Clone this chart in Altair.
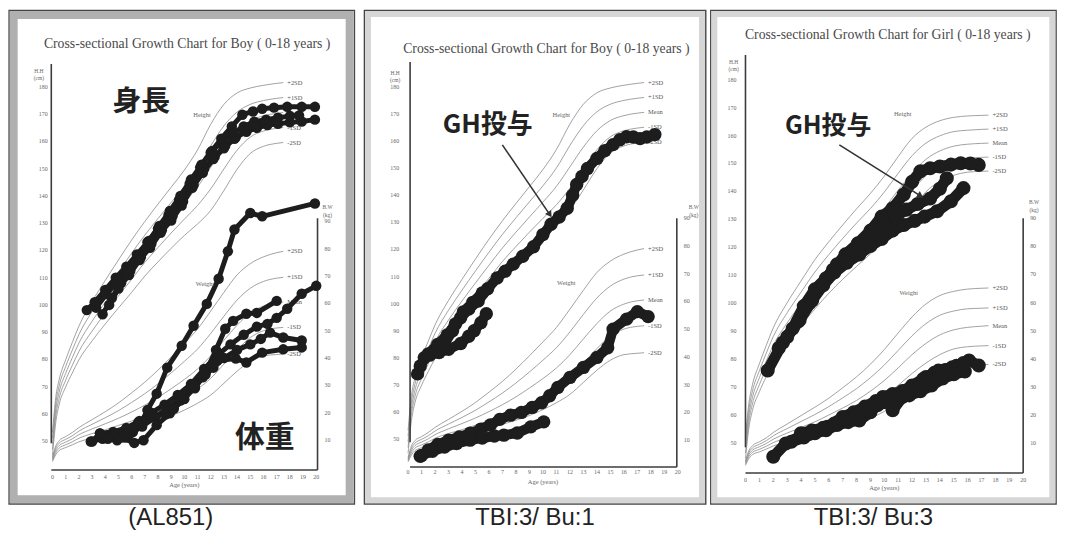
import math
import altair as alt
import pandas as pd

# ---------------- reference growth standards ----------------
REF_AGES = [0, 0.25, 0.5, 1, 1.5, 2, 3, 4, 5, 6, 7, 8, 9, 10, 11, 12, 13, 14, 15, 16, 17, 17.5]
SD_NAMES = ["+2SD", "+1SD", "Mean", "-1SD", "-2SD"]

BOY_HT_P2 = [53.2, 66.1, 72.5, 79.9, 86.2, 92.2, 101.2, 109.0, 116.5, 123.8, 130.6, 137.0, 143.2, 149.5, 156.9, 166.3, 173.6, 177.8, 179.6, 180.6, 181.3, 181.6]
BOY_HT_P1 = [51.1, 63.8, 70.2, 77.4, 83.4, 89.1, 97.6, 105.0, 112.1, 119.0, 125.6, 131.7, 137.6, 143.5, 150.1, 158.4, 165.7, 170.8, 173.6, 175.0, 175.8, 176.1]
BOY_HT_MN = [49.0, 61.5, 67.9, 74.9, 80.6, 86.0, 94.0, 101.0, 107.7, 114.2, 120.6, 126.4, 132.0, 137.5, 143.3, 150.5, 157.8, 163.8, 167.6, 169.4, 170.3, 170.6]
BOY_HT_M1 = [46.9, 59.2, 65.6, 72.4, 77.8, 82.9, 90.4, 97.0, 103.3, 109.4, 115.6, 121.1, 126.4, 131.5, 136.5, 142.6, 149.9, 156.8, 161.6, 163.8, 164.8, 165.1]
BOY_HT_M2 = [44.8, 56.9, 63.3, 69.9, 75.0, 79.8, 86.8, 93.0, 98.9, 104.6, 110.6, 115.8, 120.8, 125.5, 129.7, 134.7, 142.0, 149.8, 155.6, 158.2, 159.3, 159.6]

BOY_WT_P2 = [3.8, 7.9, 9.8, 11.3, 12.8, 14.6, 17.5, 20.4, 23.6, 27.3, 31.2, 35.6, 40.4, 45.4, 50.6, 57.2, 64.0, 70.4, 74.5, 77.0, 78.5, 79.0]
BOY_WT_P1 = [3.4, 7.1, 8.9, 10.3, 11.6, 13.3, 15.8, 18.2, 20.8, 23.8, 27.0, 30.6, 34.6, 38.8, 43.3, 49.0, 55.3, 61.2, 65.5, 68.0, 69.2, 69.5]
BOY_WT_MN = [3.0, 6.3, 8.0, 9.3, 10.5, 12.0, 14.1, 16.0, 18.0, 20.3, 22.8, 25.6, 28.8, 32.2, 36.0, 40.8, 46.5, 52.0, 56.5, 59.0, 60.2, 60.5]
BOY_WT_M1 = [2.6, 5.5, 7.1, 8.3, 9.4, 10.7, 12.4, 13.8, 15.4, 17.0, 18.8, 20.8, 23.0, 25.6, 28.7, 32.6, 37.8, 43.0, 47.5, 50.0, 51.0, 51.2]
BOY_WT_M2 = [2.2, 4.7, 6.2, 7.3, 8.3, 9.4, 10.8, 12.0, 13.2, 14.4, 15.7, 17.2, 18.9, 21.0, 23.5, 26.5, 30.8, 35.2, 38.8, 40.8, 41.3, 41.5]

GIRL_HT_P2 = [52.5, 64.4, 70.9, 78.4, 85.0, 91.2, 100.2, 108.0, 115.6, 122.0, 128.0, 133.8, 139.3, 145.5, 152.5, 159.0, 163.0, 165.3, 166.5, 167.0, 167.2, 167.3]
GIRL_HT_P1 = [50.5, 62.2, 68.6, 75.9, 82.2, 88.1, 96.6, 104.0, 111.2, 117.4, 123.2, 128.7, 133.9, 139.8, 146.5, 152.8, 157.3, 159.9, 161.4, 161.9, 162.2, 162.3]
GIRL_HT_MN = [48.5, 60.0, 66.3, 73.4, 79.4, 85.0, 93.0, 100.0, 106.8, 112.8, 118.3, 123.5, 128.5, 134.0, 140.5, 146.5, 151.5, 154.5, 156.2, 156.9, 157.2, 157.3]
GIRL_HT_M1 = [46.5, 57.8, 64.0, 70.9, 76.6, 81.9, 89.4, 96.0, 102.4, 108.2, 113.4, 118.3, 123.1, 128.2, 134.5, 140.2, 145.7, 149.1, 151.0, 151.9, 152.2, 152.3]
GIRL_HT_M2 = [44.5, 55.6, 61.7, 68.4, 73.8, 78.8, 85.8, 92.0, 98.0, 103.6, 108.6, 113.2, 117.7, 122.4, 128.5, 134.0, 139.9, 143.7, 145.8, 146.9, 147.2, 147.3]

GIRL_WT_P2 = [3.7, 7.4, 9.1, 10.5, 11.9, 13.8, 16.8, 19.8, 22.8, 26.0, 29.7, 33.6, 38.1, 43.3, 49.2, 54.9, 59.5, 62.5, 64.0, 64.8, 65.1, 65.2]
GIRL_WT_P1 = [3.3, 6.7, 8.3, 9.6, 10.9, 12.6, 15.2, 17.7, 20.2, 23.0, 26.1, 29.4, 33.3, 37.8, 43.0, 48.2, 52.5, 55.5, 57.0, 57.8, 58.0, 58.1]
GIRL_WT_MN = [2.9, 6.0, 7.5, 8.7, 9.9, 11.4, 13.6, 15.6, 17.6, 20.0, 22.5, 25.2, 28.5, 32.3, 36.8, 41.5, 45.5, 48.5, 50.3, 51.2, 51.6, 51.8]
GIRL_WT_M1 = [2.5, 5.3, 6.7, 7.8, 8.9, 10.2, 12.0, 13.5, 15.0, 17.0, 18.9, 21.0, 23.7, 26.8, 30.6, 34.8, 38.5, 41.5, 43.5, 44.3, 44.6, 44.7]
GIRL_WT_M2 = [2.1, 4.6, 5.9, 6.9, 7.9, 9.0, 10.4, 11.4, 12.4, 14.0, 15.3, 16.8, 18.9, 21.3, 24.4, 28.1, 31.5, 34.5, 36.6, 37.5, 37.9, 38.0]

HT_TICKS = [50, 60, 70, 80, 90, 100, 110, 120, 130, 140, 150, 160, 170, 180]
WT_TICKS = [10, 20, 30, 40, 50, 60, 70, 80, 90]
AGE_TICKS = list(range(0, 21))

# ---------------- patients: panel 1 (AL851) ----------------
P1_HA_AGE = [2.6, 3.2, 4.0, 4.8, 5.6, 6.4, 7.2, 8.0, 8.8, 9.6, 10.4, 11.2, 12.0, 12.8, 13.6, 14.4, 15.2, 15.9, 16.8, 17.8, 18.9, 19.9]
P1_HA_CM = [98.1, 101, 105.5, 110, 114, 118.5, 123, 128, 133, 138.5, 144.5, 150.5, 156, 161, 165.5, 169.8, 171, 172, 172.4, 172.7, 172.7, 172.7]
P1_HB_AGE = [3.8, 4.5, 5.2, 5.9, 6.7, 7.5, 8.3, 9.1, 9.9, 10.7, 11.5, 12.3, 13.1, 13.9, 14.7, 15.5, 16.3, 17.1, 18.0, 18.9, 19.9]
P1_HB_CM = [96.6, 102.5, 108, 112.5, 117.5, 122.5, 127.5, 132.5, 138, 144, 150, 154.5, 158.5, 161.5, 163.5, 165, 166, 166.5, 167, 167.3, 168]
P1_HC_AGE = [3.3, 4.1, 4.9, 5.7, 6.5, 7.3, 8.1, 8.9, 9.7, 10.5, 11.3, 12.1, 12.9, 13.7, 14.5, 15.3, 16.2, 17.1, 18.0, 18.7]
P1_HC_CM = [99, 104, 108.5, 113, 118, 123.5, 129, 134.5, 140, 146, 151.5, 156.5, 160, 163, 165.5, 167.2, 168, 168.7, 169.3, 169.5]
P1_HD_AGE = [4.3, 5.0, 5.8, 6.6, 7.4, 8.2, 9.0, 9.8, 10.6, 11.4, 12.2, 13.0, 13.8, 14.6, 15.4, 16.2, 17.0]
P1_HD_CM = [100, 106, 111, 116.5, 121, 126.5, 131, 136.5, 143, 148.5, 153.5, 157.5, 161, 164, 166, 167, 167.7]

P1_W1_AGE = [5.5, 6.1, 6.7, 7.2, 7.9, 8.7, 9.8, 10.7, 11.7, 12.6, 13.3, 13.8, 15.0, 15.9, 19.9]
P1_W1_KG = [11, 13, 16.2, 21, 27, 36.5, 44.5, 51.8, 59.8, 69, 79, 87, 93, 91.8, 96.5]
P1_W2_AGE = [3.0, 3.6, 4.5, 5.5, 6.5, 7.5, 8.5, 9.5, 10.5, 11.5, 12.5, 13.5, 14.5, 15.5, 16.3, 17.0, 17.8, 18.9, 20.0]
P1_W2_KG = [9.5, 12.5, 12, 13.5, 16.5, 20, 23, 26.5, 30.5, 36, 41, 45, 48.5, 51.5, 52.5, 54.7, 58, 63.5, 66.4]
P1_W3_AGE = [2.9, 3.8, 4.9, 5.8, 6.8, 7.8, 8.8, 9.8, 10.8, 11.6, 12.4, 13.1, 13.7, 14.7, 15.5, 17.0]
P1_W3_KG = [9.5, 10.5, 10, 12, 15, 18.5, 22, 25.5, 29, 34.5, 43, 50.7, 53.6, 56.2, 56.5, 60.9]
P1_W4_AGE = [4.2, 5.2, 6.2, 6.9, 7.9, 8.9, 9.7, 10.5, 11.4, 12.2, 13.0, 14.0, 15.0, 15.8, 16.5, 17.5, 18.9]
P1_W4_KG = [10.5, 11, 9, 10, 15.5, 19.8, 24.5, 29, 33, 36.5, 40, 43, 45, 47, 49.3, 47.5, 46.4]
P1_W5_AGE = [3.6, 4.6, 5.6, 6.6, 7.6, 8.6, 9.2, 10.0, 10.8, 11.6, 12.5, 13.9, 14.7, 15.9, 17.5, 18.9]
P1_W5_KG = [12.5, 13, 14.5, 17, 18.5, 19.5, 21.5, 25, 29.5, 34, 39.1, 39.8, 38.4, 42, 43.2, 43.9]

# ---------------- patients: panel 2 (TBI:3/ Bu:1) ----------------
P2_H1_AGE = [0.7, 1.2, 2.0, 2.7, 3.3, 3.9, 4.5, 5.2, 5.9, 6.6, 7.2, 7.8, 8.5, 9.3, 10.0, 10.6, 11.2, 11.8, 12.2, 12.5, 12.9, 13.3, 14.0, 14.6, 15.2, 15.7, 16.2, 16.7, 17.2, 17.7, 18.3]
P2_H1_CM = [74.1, 80.1, 83, 85.3, 90, 94.8, 98, 101, 105.5, 109.5, 112, 114.6, 117.5, 121, 125.5, 129.3, 132, 135.2, 140, 144, 147, 149.9, 153.6, 156.5, 158.7, 160.5, 161.6, 161.5, 160.9, 161.5, 162.4]
P2_H2_AGE = [0.9, 1.5, 2.2, 2.9, 3.5, 4.1, 4.8, 5.5]
P2_H2_CM = [77, 81.5, 85, 88.5, 92.5, 97, 100.5, 104]
P2_H3_AGE = [1.6, 2.3, 3.0, 3.9, 4.5, 4.9, 5.4, 5.8]
P2_H3_CM = [81, 82, 83.2, 85.3, 88, 90, 93, 96.3]
P2_W1_AGE = [0.9, 1.5, 2.2, 3.0, 3.8, 4.6, 5.4, 6.1, 6.8, 7.6, 8.4, 9.2, 9.9, 10.5, 11.1, 12.0, 13.0, 14.0, 14.8, 15.2, 16.2, 17.0, 17.8]
P2_W1_KG = [4.2, 6.5, 8.5, 10, 11.2, 12.5, 14, 15.5, 17.5, 19, 20, 21.8, 23.5, 26, 29, 32.6, 36.2, 39.8, 43.3, 50.0, 53.6, 56.3, 54.5]
P2_W2_AGE = [1.0, 1.8, 2.7, 3.6, 4.6, 5.5, 6.4, 7.1, 8.1, 9.1, 10.06]
P2_W2_KG = [4.5, 6, 7.5, 8.8, 10, 10.8, 11.5, 11.8, 12.6, 14.8, 16.6]

# ---------------- patients: panel 3 (TBI:3/ Bu:3) ----------------
P3_H1_AGE = [1.6, 2.7, 3.8, 4.6, 5.4, 6.3, 7.2, 8.1, 9.0, 9.8, 10.6, 11.4, 12.0, 12.6, 13.3, 14.0, 14.8, 15.5, 16.2, 16.8]
P3_H1_CM = [76, 86, 93.5, 100, 106, 112, 117.5, 121.5, 126, 131, 134, 138.9, 143.5, 147.2, 148.3, 148.9, 149.6, 150.1, 150, 149.5]
P3_H2_AGE = [2.4, 3.4, 4.2, 5.0, 5.8, 6.6, 7.5, 8.3, 9.3, 10.0, 10.8, 11.6, 12.4, 13.3, 14.0, 14.5]
P3_H2_CM = [84, 91, 99, 105, 109, 114, 117.5, 120.5, 124.6, 128, 131, 133.5, 135.5, 137.5, 141, 144.7]
P3_H3_AGE = [3.0, 3.9, 4.8, 5.6, 6.4, 7.3, 8.2, 9.0, 9.8, 10.6, 11.4, 12.2, 12.9, 13.8, 14.8, 15.7]
P3_H3_CM = [88, 94, 101, 106.5, 111, 114.5, 117.5, 120.5, 123, 126, 128, 129.5, 131, 132.9, 136.5, 141.2]
P3_W1_AGE = [2.0, 2.9, 4.1, 5.0, 5.9, 7.0, 7.8, 8.6, 9.4, 9.9, 10.6, 11.3, 12.0, 12.8, 13.6, 14.4, 15.2, 16.1, 16.8]
P3_W1_KG = [5.2, 9.9, 12.8, 14, 15.8, 19.3, 21, 23, 25, 26.4, 27.5, 28.5, 30.5, 32.8, 35, 36, 37.5, 39.4, 37.6]
P3_W2_AGE = [3.3, 4.2, 5.0, 5.8, 6.6, 7.4, 8.2, 9.0, 9.7, 10.3, 10.6, 11.3, 12.0, 12.5, 13.0, 13.9, 14.9, 15.7]
P3_W2_KG = [10.5, 12, 13.5, 14.6, 16.5, 17.5, 18.1, 21, 24.5, 25, 21.7, 26.4, 28, 29.9, 33.5, 35.8, 37, 38.5]
P3_W3_AGE = [4.0, 4.8, 5.6, 6.4, 7.2, 8.0, 8.8, 9.5, 10.2, 11.0, 11.8, 12.6, 13.4, 14.2, 15.0, 15.8]
P3_W3_KG = [13.5, 14.5, 15.5, 17, 18.5, 20, 22, 23.5, 24.5, 25.5, 27, 28.5, 30.5, 33, 34.5, 35.5]

TITLE_BOY = "Cross-sectional Growth Chart for Boy ( 0-18 years )"
TITLE_GIRL = "Cross-sectional Growth Chart for Girl ( 0-18 years )"
CAPTIONS = ["(AL851)", "TBI:3/ Bu:1", "TBI:3/ Bu:3"]

# ---------------- layout (pixel geometry of each scanned chart) ----------------
Y0 = 8
H = 496
SERIF = "Liberation Serif"
CJK = "Noto Sans CJK JP"
INK = "#1d1d1d"
ONE = pd.DataFrame({"k": [0]})

G1 = dict(x0=8, w=347, age0=51.7, ppy=13.25, h50=441.0, ppc=2.738, w10=440.0, ppk=2.75,
          lax=50.5, lax_top=62, lax_bot=443, xax=470, rax=318, rax_top=217,
          hlab=47, wlab=325, xlab_dy=7, xt_dy=15, band="#b0b0b0", bandw=8, lw=5, ms=110)
G2 = dict(x0=363, w=343, age0=407.0, ppy=13.55, h50=439.0, ppc=2.723, w10=440.0, ppk=2.79,
          lax=409, lax_top=60, lax_bot=442, xax=467, rax=677, rax_top=217,
          hlab=398, wlab=684, xlab_dy=5, xt_dy=15, band="#d6d6d6", bandw=6, lw=10, ms=180)
G3 = dict(x0=709, w=347, age0=744.0, ppy=13.95, h50=443.0, ppc=2.81, w10=443.0, ppk=2.825,
          lax=744, lax_top=53, lax_bot=447, xax=473, rax=1023, rax_top=217,
          hlab=735, wlab=1030, xlab_dy=7, xt_dy=15, band="#d6d6d6", bandw=6, lw=11, ms=200)


def px2age(g, px):
    return (px - g["age0"]) / g["ppy"]


def py2cm(g, py):
    return 50 + (g["h50"] - py) / g["ppc"]


def kg2cm(g, kg):
    return py2cm(g, g["w10"] - (kg - 10) * g["ppk"])


def conv(g, v, kind):
    return v if kind == "h" else kg2cm(g, v)


def curves_df(g, curves, kind):
    rows = []
    for nm, vals in zip(SD_NAMES, curves):
        for a, v in zip(REF_AGES, vals):
            rows.append(dict(x=a, y=conv(g, v, kind), c=kind + nm))
    return pd.DataFrame(rows)


def labels_df(g, curves, kind):
    return pd.DataFrame([dict(x=REF_AGES[-1], y=conv(g, vals[-1], kind), t=nm)
                         for nm, vals in zip(SD_NAMES, curves)])


def series_df(g, series, kind):
    rows = []
    for i, (ages, vals) in enumerate(series):
        for a, v in zip(ages, vals):
            rows.append(dict(x=a, y=conv(g, v, kind), s=f"{kind}{i}"))
    return pd.DataFrame(rows)


def panel(g, ht_ref, wt_ref, ht_ser, wt_ser, texts, arrow, caption, cap_dx):
    W = g["w"]
    xsc = alt.Scale(domain=[px2age(g, g["x0"]), px2age(g, g["x0"] + W)], nice=False, zero=False)
    ysc = alt.Scale(domain=[py2cm(g, Y0 + H), py2cm(g, Y0)], nice=False, zero=False)
    X = alt.X("x:Q", scale=xsc, axis=None)
    Yc = alt.Y("y:Q", scale=ysc, axis=None)
    layers = []

    b = g["bandw"]
    layers.append(alt.Chart(ONE).mark_rect(fillOpacity=0, stroke=g["band"], strokeWidth=b).encode(
        x=alt.value(b / 2 + 0.7), x2=alt.value(W - b / 2 - 0.7),
        y=alt.value(b / 2 + 0.7), y2=alt.value(H - b / 2 - 0.7)))

    ref = pd.concat([curves_df(g, ht_ref, "h"), curves_df(g, wt_ref, "w")])
    layers.append(alt.Chart(ref).mark_line(color="#8a8a8a", strokeWidth=0.8, interpolate="monotone").encode(
        x=X, y=Yc, detail="c:N"))
    lab = pd.concat([labels_df(g, ht_ref, "h"), labels_df(g, wt_ref, "w")])
    layers.append(alt.Chart(lab).mark_text(align="left", baseline="middle", dx=4, font=SERIF,
                                           fontSize=6.5, color="#555").encode(x=X, y=Yc, text="t:N"))

    lx, rx = px2age(g, g["lax"]), px2age(g, g["rax"])
    yb = py2cm(g, g["xax"])
    axes = pd.DataFrame({
        "x": [lx, lx, rx], "x2": [lx, rx, rx],
        "y": [py2cm(g, g["lax_bot"]), yb, yb],
        "y2": [py2cm(g, g["lax_top"]), yb, py2cm(g, g["rax_top"])],
    })
    layers.append(alt.Chart(axes).mark_rule(color="#3c3c3c", strokeWidth=1.6).encode(
        x=X, y=Yc, x2="x2:Q", y2="y2:Q"))

    hl = pd.DataFrame({"x": [px2age(g, g["hlab"])] * len(HT_TICKS), "y": HT_TICKS,
                       "t": [str(v) for v in HT_TICKS]})
    layers.append(alt.Chart(hl).mark_text(align="right", baseline="middle", font=SERIF, fontSize=6,
                                          color="#666").encode(x=X, y=Yc, text="t:N"))
    wl = pd.DataFrame({"x": [px2age(g, g["wlab"])] * len(WT_TICKS), "y": [kg2cm(g, v) for v in WT_TICKS],
                       "t": [str(v) for v in WT_TICKS]})
    layers.append(alt.Chart(wl).mark_text(align="left", baseline="middle", font=SERIF, fontSize=6,
                                          color="#666").encode(x=X, y=Yc, text="t:N"))
    al = pd.DataFrame({"x": AGE_TICKS, "y": [yb] * len(AGE_TICKS), "t": [str(v) for v in AGE_TICKS]})
    layers.append(alt.Chart(al).mark_text(align="center", baseline="middle", dy=g["xlab_dy"], font=SERIF,
                                          fontSize=6, color="#666").encode(x=X, y=Yc, text="t:N"))
    at = pd.DataFrame({"x": [10], "y": [yb], "t": ["Age (years)"]})
    layers.append(alt.Chart(at).mark_text(align="center", baseline="middle", dy=g["xt_dy"], font=SERIF,
                                          fontSize=6.5, color="#666").encode(x=X, y=Yc, text="t:N"))

    pts = pd.concat([series_df(g, ht_ser, "h"), series_df(g, wt_ser, "w")])
    layers.append(alt.Chart(pts).mark_line(color=INK, strokeWidth=g["lw"], strokeJoin="round",
                                           strokeCap="round").encode(x=X, y=Yc, detail="s:N"))
    layers.append(alt.Chart(pts).mark_circle(color=INK, size=g["ms"], opacity=1).encode(x=X, y=Yc))

    for t in texts:
        layers.append(alt.Chart(ONE).mark_text(
            text=t["t"], font=t.get("f", SERIF), fontSize=t["s"], fontWeight=t.get("w", "normal"),
            color=t.get("c", "#555"), align="center", baseline="middle", lineBreak="\n").encode(
            x=alt.value(t["x"] - g["x0"]), y=alt.value(t["y"] - Y0)))

    if arrow:
        (ax0, ay0), (ax1, ay1) = arrow
        rx0, ry0, rx1, ry1 = ax0 - g["x0"], ay0 - Y0, ax1 - g["x0"], ay1 - Y0
        L = math.hypot(rx1 - rx0, ry1 - ry0)
        ux, uy = (rx1 - rx0) / L, (ry1 - ry0) / L
        ang = math.degrees(math.atan2(rx1 - rx0, -(ry1 - ry0))) % 360
        layers.append(alt.Chart(ONE).mark_rule(color="#333", strokeWidth=1.6).encode(
            x=alt.value(rx0), y=alt.value(ry0), x2=alt.value(rx1 - 5 * ux), y2=alt.value(ry1 - 5 * uy)))
        layers.append(alt.Chart(ONE).mark_point(shape="triangle-up", filled=True, size=55, angle=ang,
                                                color="#333", opacity=1).encode(
            x=alt.value(rx1 - 4 * ux), y=alt.value(ry1 - 4 * uy)))

    return alt.layer(*layers).properties(
        width=W, height=H,
        title=alt.TitleParams(caption, orient="bottom", fontSize=24, font="Liberation Sans",
                              fontWeight="normal", color="#222", offset=2, dx=cap_dx, anchor="middle"))


boy_ht = [BOY_HT_P2, BOY_HT_P1, BOY_HT_MN, BOY_HT_M1, BOY_HT_M2]
boy_wt = [BOY_WT_P2, BOY_WT_P1, BOY_WT_MN, BOY_WT_M1, BOY_WT_M2]
girl_ht = [GIRL_HT_P2, GIRL_HT_P1, GIRL_HT_MN, GIRL_HT_M1, GIRL_HT_M2]
girl_wt = [GIRL_WT_P2, GIRL_WT_P1, GIRL_WT_MN, GIRL_WT_M1, GIRL_WT_M2]


def common_texts(title, tx, ty, hx, hy, wx, wy, hhx, hhy, bwx, bwy):
    return [
        dict(t=title, x=tx, y=ty, s=13.8, c="#4a4a4a"),
        dict(t="Height", x=hx, y=hy, s=6.5, c="#666"),
        dict(t="Weight", x=wx, y=wy, s=6.5, c="#666"),
        dict(t="H.H\n(cm)", x=hhx, y=hhy, s=5.5, c="#666"),
        dict(t="B.W\n(kg)", x=bwx, y=bwy, s=5.5, c="#666"),
    ]


t1 = common_texts(TITLE_BOY, 187, 42, 202, 113, 205, 283, 38, 69, 328, 206) + [
    dict(t="身長", x=141, y=100, s=29, f=CJK, w="bold", c="#222"),
    dict(t="体重", x=265, y=438, s=30, f=CJK, w="bold", c="#222"),
]
t2 = common_texts(TITLE_BOY, 546, 47, 561, 113, 566, 282, 394, 71, 694, 206) + [
    dict(t="GH投与", x=487, y=123, s=26, f=CJK, w="bold", c="#222"),
]
t3 = common_texts(TITLE_GIRL, 887, 33, 902, 112, 908, 292, 732, 60, 1034, 201) + [
    dict(t="GH投与", x=827, y=124, s=25, f=CJK, w="bold", c="#222"),
]

p1 = panel(G1, boy_ht, boy_wt,
           [(P1_HA_AGE, P1_HA_CM), (P1_HB_AGE, P1_HB_CM), (P1_HC_AGE, P1_HC_CM), (P1_HD_AGE, P1_HD_CM)],
           [(P1_W1_AGE, P1_W1_KG), (P1_W2_AGE, P1_W2_KG), (P1_W3_AGE, P1_W3_KG), (P1_W4_AGE, P1_W4_KG),
            (P1_W5_AGE, P1_W5_KG)],
           t1, None, CAPTIONS[0], -11)
p2 = panel(G2, boy_ht, boy_wt,
           [(P2_H1_AGE, P2_H1_CM), (P2_H2_AGE, P2_H2_CM), (P2_H3_AGE, P2_H3_CM)],
           [(P2_W1_AGE, P2_W1_KG), (P2_W2_AGE, P2_W2_KG)],
           t2, [(501.7, 143.3), (551.7, 216.7)], CAPTIONS[1], 0)
p3 = panel(G3, girl_ht, girl_wt,
           [(P3_H1_AGE, P3_H1_CM), (P3_H2_AGE, P3_H2_CM), (P3_H3_AGE, P3_H3_CM)],
           [(P3_W1_AGE, P3_W1_KG), (P3_W2_AGE, P3_W2_KG), (P3_W3_AGE, P3_W3_KG)],
           t3, [(838.3, 143.3), (923.3, 196.7)], CAPTIONS[2], -10)

chart = alt.hconcat(p1, alt.hconcat(p2, p3, spacing=3), spacing=8).properties(
    padding=0, background="white").configure_view(stroke="#454545", strokeWidth=1.4)

chart.save("out.html", embed_options={"renderer": "svg", "actions": False})
